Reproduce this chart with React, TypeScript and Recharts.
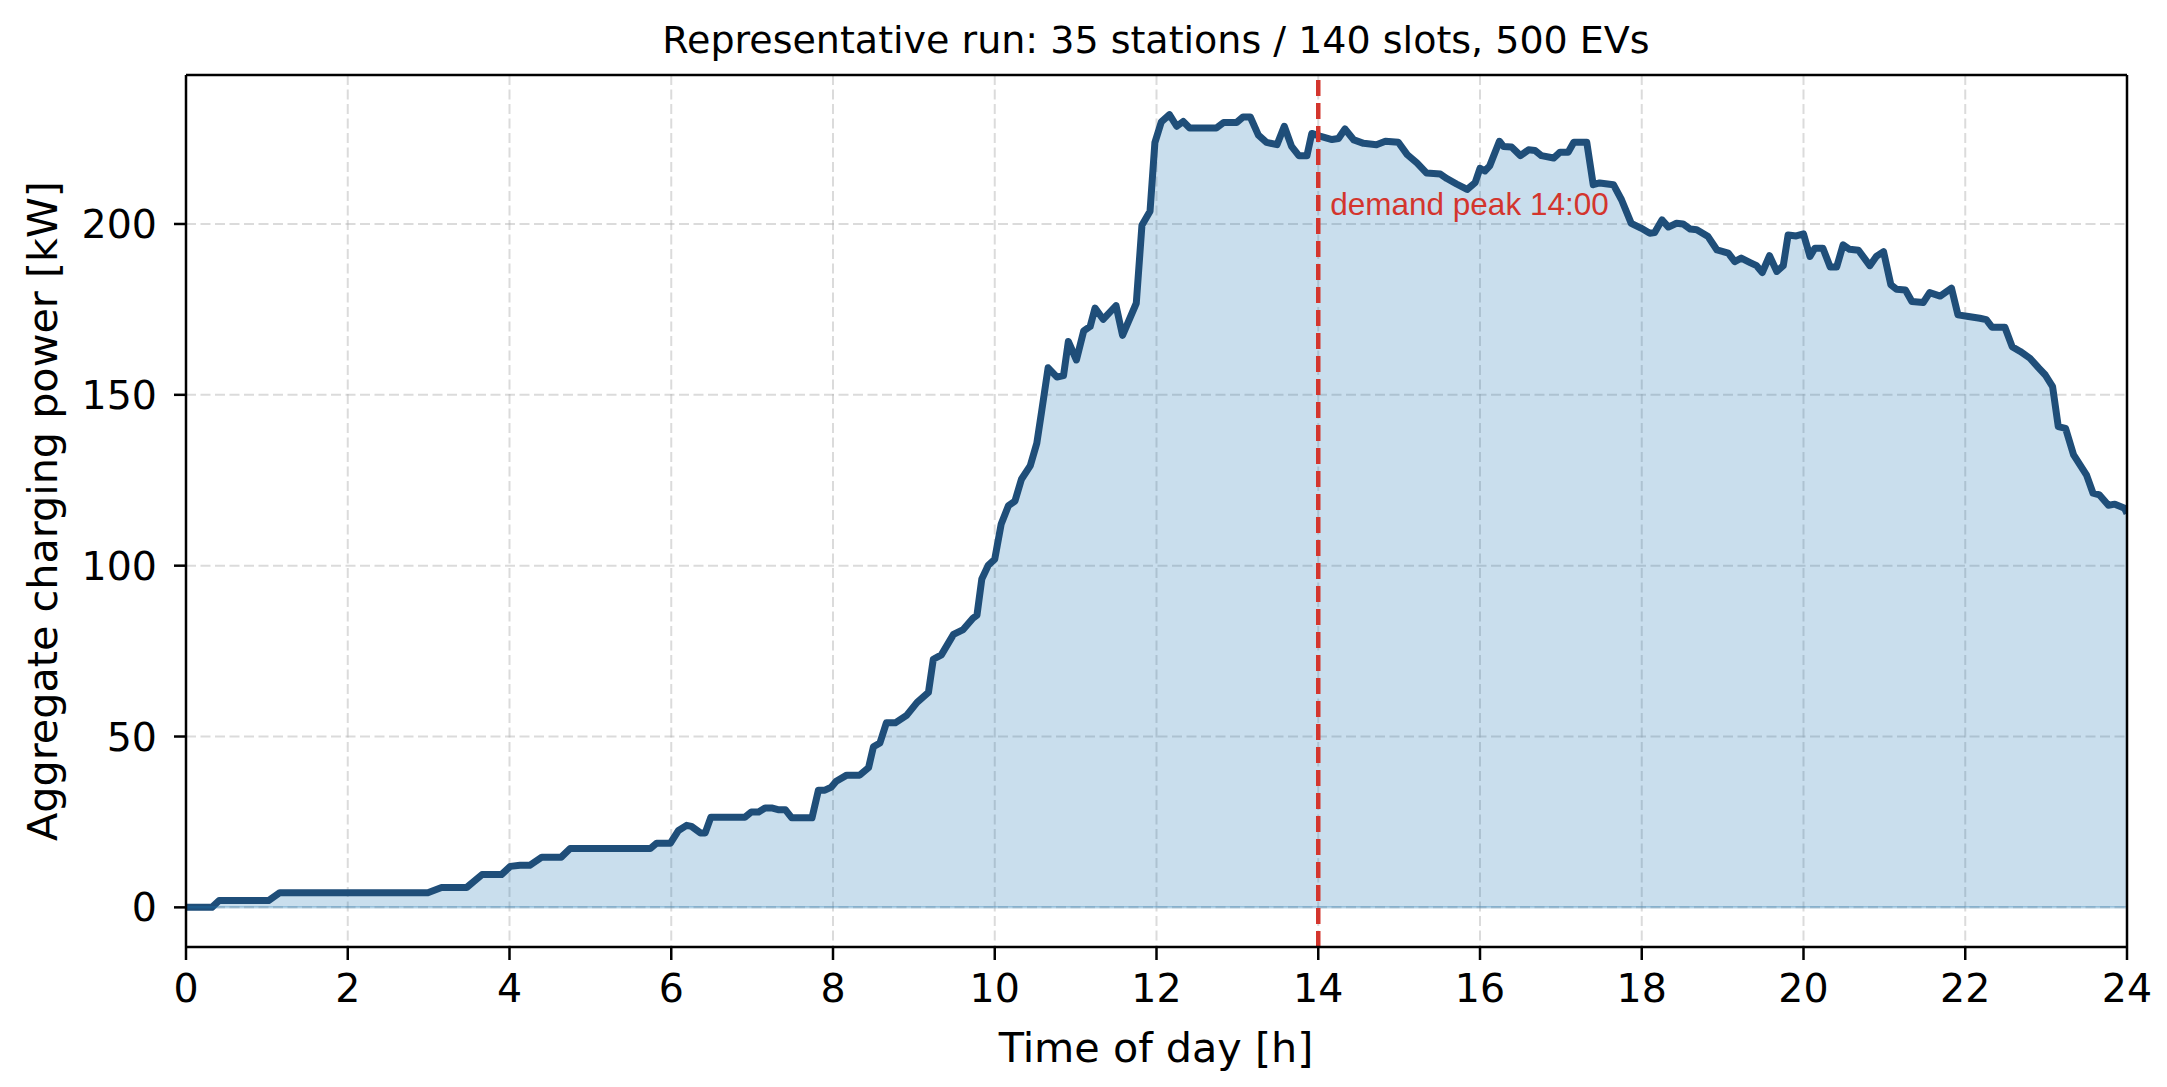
import React from 'react';
import {
  AreaChart,
  Area,
  XAxis,
  YAxis,
  CartesianGrid,
  ReferenceLine,
} from 'recharts';

// Time of day [h]
const hours: number[] = [
  0, 0.32, 0.41, 1.02, 1.16, 2.99, 3.16, 3.47, 3.66, 3.9, 4.01, 4.13, 4.25, 4.4, 4.64, 4.75,
  5.74, 5.82, 5.99, 6.09, 6.19, 6.25, 6.36, 6.42, 6.49, 6.91, 6.99, 7.08, 7.16, 7.24, 7.32,
  7.41, 7.49, 7.74, 7.82, 7.9, 7.98, 8.04, 8.17, 8.33, 8.44, 8.5, 8.58, 8.66, 8.77, 8.91,
  9.04, 9.18, 9.24, 9.34, 9.49, 9.61, 9.73, 9.78, 9.84, 9.92, 10.0, 10.08, 10.17, 10.25,
  10.33, 10.44, 10.52, 10.58, 10.66, 10.77, 10.85, 10.91, 11.01, 11.1, 11.18, 11.24, 11.34,
  11.5, 11.58, 11.75, 11.82, 11.92, 11.98, 12.06, 12.16, 12.25, 12.33, 12.41, 12.74, 12.83,
  12.99, 13.07, 13.16, 13.26, 13.36, 13.49, 13.58, 13.67, 13.76, 13.86, 13.92, 14.02, 14.17,
  14.25, 14.33, 14.44, 14.56, 14.72, 14.83, 14.99, 15.1, 15.22, 15.34, 15.51, 15.59, 15.71,
  15.84, 15.94, 16.0, 16.06, 16.12, 16.24, 16.29, 16.39, 16.5, 16.6, 16.68, 16.76, 16.91,
  16.99, 17.09, 17.16, 17.32, 17.4, 17.48, 17.65, 17.75, 17.87, 17.99, 18.1, 18.16, 18.25,
  18.33, 18.43, 18.51, 18.6, 18.68, 18.82, 18.93, 19.07, 19.15, 19.23, 19.34, 19.42, 19.49,
  19.58, 19.67, 19.75, 19.81, 19.91, 20.0, 20.08, 20.14, 20.24, 20.33, 20.41, 20.49, 20.57,
  20.68, 20.82, 20.9, 20.99, 21.08, 21.15, 21.26, 21.34, 21.48, 21.56, 21.69, 21.83, 21.91,
  22.04, 22.18, 22.26, 22.33, 22.49, 22.58, 22.68, 22.8, 22.91, 22.99, 23.08, 23.15, 23.24,
  23.34, 23.5, 23.58, 23.66, 23.77, 23.85, 23.97, 24.0,
];

// Aggregate charging power [kW]
const power: number[] = [
  0, 0, 2.0, 2.0, 4.3, 4.3, 5.8, 5.8, 9.6, 9.6, 12.0, 12.3, 12.3, 14.7, 14.7, 17.2,
  17.2, 18.8, 18.8, 22.5, 24.0, 23.7, 21.8, 21.8, 26.4, 26.4, 27.9, 27.9, 29.1, 29.1, 28.6,
  28.6, 26.2, 26.2, 34.3, 34.3, 35.2, 36.9, 38.7, 38.7, 40.9, 47.0, 48.1, 54.0, 54.0, 56.2,
  60.0, 62.9, 72.6, 73.9, 79.9, 81.3, 84.6, 85.5, 96.1, 100.1, 101.9, 112.2, 117.6, 118.9,
  125.3, 129.3, 135.8, 145.2, 157.9, 155.2, 155.6, 165.6, 160.2, 168.7, 170.0, 175.4, 172.1,
  176.1, 167.4, 176.8, 199.6, 203.7, 223.8, 229.9, 232.0, 228.6, 230.0, 228.1, 228.1, 229.7,
  229.7, 231.3, 231.3, 226.0, 223.9, 223.2, 228.6, 222.7, 220.0, 220.0, 226.5, 225.7, 224.7,
  225.0, 227.8, 224.6, 223.6, 223.2, 224.2, 223.9, 220.3, 217.9, 214.9, 214.6, 213.3, 211.7,
  210.1, 212.1, 216.3, 215.5, 217.0, 224.2, 222.7, 222.5, 220.0, 221.7, 221.5, 220.0, 219.3,
  221.0, 221.0, 223.9, 223.9, 211.5, 212.0, 211.5, 207.1, 200.2, 198.8, 197.3, 197.5, 201.2,
  199.1, 200.2, 200.0, 198.5, 198.3, 196.3, 192.4, 191.5, 189.0, 190.0, 188.7, 187.8, 185.8,
  190.7, 186.1, 187.8, 196.8, 196.5, 197.1, 190.5, 192.9, 192.9, 187.4, 187.4, 193.9, 192.6,
  192.3, 187.8, 190.5, 191.9, 182.2, 180.9, 180.7, 177.3, 177.0, 179.9, 178.9, 181.2, 173.4,
  172.9, 172.4, 172.0, 169.8, 169.8, 164.1, 162.7, 160.7, 157.8, 155.8, 152.4, 140.7, 140.2,
  132.4, 126.5, 121.2, 120.7, 117.7, 118.0, 116.8, 115.3,
];

const xTicks: number[] = [0, 2, 4, 6, 8, 10, 12, 14, 16, 18, 20, 22, 24];
const yTicks: number[] = [0, 50, 100, 150, 200];
const xDomain: [number, number] = [0, 24];
const yDomain: [number, number] = [-11.6, 243.6];
const peakHour = 14;
const titleText = 'Representative run: 35 stations / 140 slots, 500 EVs';
const xLabel = 'Time of day [h]';
const yLabel = 'Aggregate charging power [kW]';
const peakLabel = 'demand peak 14:00';

const data = hours.map((h, i) => ({ h, p: power[i] }));

const FONT = '"DejaVu Sans", sans-serif';
const W = 2167;
const H = 1087;
const RED = '#d3352d';

const PeakLabel = (props: any) => {
  const vb = (props && props.viewBox) || {};
  const x = (typeof vb.x === 'number' ? vb.x : 1318) + 12;
  const y = (typeof vb.y === 'number' ? vb.y : 75) + 140;
  return (
    <text
      x={x}
      y={y}
      textAnchor="start"
      fontFamily='"Liberation Sans", Arial, sans-serif'
      fontSize={31.5}
      fill={RED}
    >
      {peakLabel}
    </text>
  );
};

export default function App() {
  return (
    <div style={{ position: 'absolute', left: 0, top: 0, width: W, height: H, background: '#fff' }}>
      <AreaChart
        width={W}
        height={H}
        data={data}
        margin={{ top: 75, right: 40, bottom: 80, left: 86 }}
      >
        <CartesianGrid
          stroke="#b0b0b0"
          strokeOpacity={0.45}
          strokeWidth={2}
          strokeDasharray="10 4.5"
          horizontalValues={yTicks}
          verticalValues={xTicks}
        />
        <XAxis
          dataKey="h"
          type="number"
          domain={xDomain}
          ticks={xTicks}
          allowDataOverflow
          height={60}
          tickSize={13}
          tickMargin={14}
          interval={0}
          axisLine={{ stroke: '#000', strokeWidth: 2.5 }}
          tickLine={{ stroke: '#000', strokeWidth: 2.5 }}
          tick={{ fill: '#000', fontSize: 39.5, fontFamily: FONT }}
        />
        <YAxis
          type="number"
          domain={yDomain}
          ticks={yTicks}
          allowDataOverflow
          width={100}
          tickSize={12}
          tickMargin={17}
          interval={0}
          axisLine={{ stroke: '#000', strokeWidth: 2.5 }}
          tickLine={{ stroke: '#000', strokeWidth: 2.5 }}
          tick={{ fill: '#000', fontSize: 39.5, fontFamily: FONT }}
        />
        <Area
          type="linear"
          dataKey="p"
          baseValue={0}
          stroke="#1f4e79"
          strokeWidth={7}
          strokeLinejoin="round"
          fill="#1f77b4"
          fillOpacity={0.24}
          dot={false}
          activeDot={false}
          isAnimationActive={false}
        />
        <ReferenceLine y={0} stroke="#1f77b4" strokeOpacity={0.3} strokeWidth={2.5} />
        <ReferenceLine
          x={peakHour}
          stroke={RED}
          strokeWidth={4.5}
          strokeDasharray="16 7"
          label={PeakLabel}
        />
        <ReferenceLine y={yDomain[1]} stroke="#000" strokeWidth={2.5} />
        <ReferenceLine x={xDomain[1]} stroke="#000" strokeWidth={2.5} />
        <text
          x={1156}
          y={53}
          textAnchor="middle"
          fontFamily={FONT}
          fontSize={38}
          fill="#000"
        >
          {titleText}
        </text>
        <text
          x={1156}
          y={1062}
          textAnchor="middle"
          fontFamily={FONT}
          fontSize={41.3}
          fill="#000"
        >
          {xLabel}
        </text>
        <text
          x={57}
          y={511}
          textAnchor="middle"
          transform="rotate(-90 57 511)"
          fontFamily={FONT}
          fontSize={41.3}
          fill="#000"
        >
          {yLabel}
        </text>
      </AreaChart>
    </div>
  );
}
